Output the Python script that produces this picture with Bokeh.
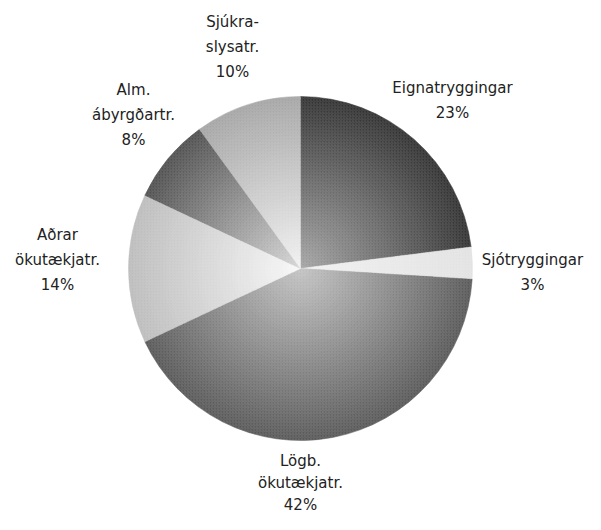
import math
from bokeh.plotting import figure
from bokeh.models import ColumnDataSource, Range1d
from bokeh.core.properties import value
from bokeh.embed import file_html
from bokeh.resources import INLINE

# Data
labels = ["Eignatryggingar\n23%", "Sjótryggingar\n3%", "Lögb.\nökutækjatr.\n42%",
          "Aðrar\nökutækjatr.\n14%", "Alm.\nábyrgðartr.\n8%", "Sjúkra-\nslysatr.\n10%"]
shares = [23, 3, 42, 14, 8, 10]
inner_gray = [165, 240, 195, 248, 215, 242]
outer_gray = [50, 226, 88, 188, 80, 165]

# label anchors (screen px) and line spacing
label_x = [452, 532, 300, 57, 133, 232]
label_y = [87, 259, 460, 234, 89, 21]
label_gap = [25, 25, 22, 25, 25, 25]

W, H = 585, 514
CX, CY, R = 300, H - 268, 172

p = figure(width=W, height=H, output_backend="svg", toolbar_location=None,
           x_range=Range1d(0, W), y_range=Range1d(0, H), min_border=0)
p.axis.visible = False
p.grid.visible = False
p.outline_line_color = None
p.background_fill_color = "white"

total = sum(shares)
N = 40
xs, ys, rs, sa, ea, cols = [], [], [], [], [], []
cum = 0
bounds = []
for i, s in enumerate(shares):
    a0 = math.pi / 2 - 2 * math.pi * (cum + s) / total
    a1 = math.pi / 2 - 2 * math.pi * cum / total
    bounds.append((a0, a1))
    cum += s
for k in range(N, 0, -1):
    t = k / N
    for i in range(len(shares)):
        g = round(inner_gray[i] + (outer_gray[i] - inner_gray[i]) * t)
        xs.append(CX); ys.append(CY); rs.append(R * t)
        sa.append(bounds[i][0]); ea.append(bounds[i][1])
        cols.append("#%02x%02x%02x" % (g, g, g))

src = ColumnDataSource(dict(x=xs, y=ys, r=rs, sa=sa, ea=ea, c=cols))
p.wedge(x="x", y="y", radius="r", start_angle="sa", end_angle="ea",
        fill_color="c", line_color="c", line_width=0.5, source=src)

hsrc = ColumnDataSource(dict(x=[CX] * len(shares), y=[CY] * len(shares),
                             sa=[b[0] for b in bounds], ea=[b[1] for b in bounds]))
p.wedge(x="x", y="y", radius=R, start_angle="sa", end_angle="ea",
        fill_alpha=0, line_color=None, hatch_pattern="/", hatch_color="white",
        hatch_alpha=0.15, hatch_scale=3, hatch_weight=0.8, source=hsrc)

tx, ty, tt = [], [], []
for i, lab in enumerate(labels):
    for j, line in enumerate(lab.split("\n")):
        tx.append(label_x[i])
        ty.append(H - (label_y[i] + label_gap[i] * j))
        tt.append(line)
tsrc = ColumnDataSource(dict(x=tx, y=ty, t=tt))
p.text(x="x", y="y", text="t", source=tsrc, text_align="center",
       text_baseline="middle", text_font=value("DejaVu Sans"),
       text_font_size="15px", text_color="#222222")

open("out.html", "w").write(file_html(p, INLINE))
